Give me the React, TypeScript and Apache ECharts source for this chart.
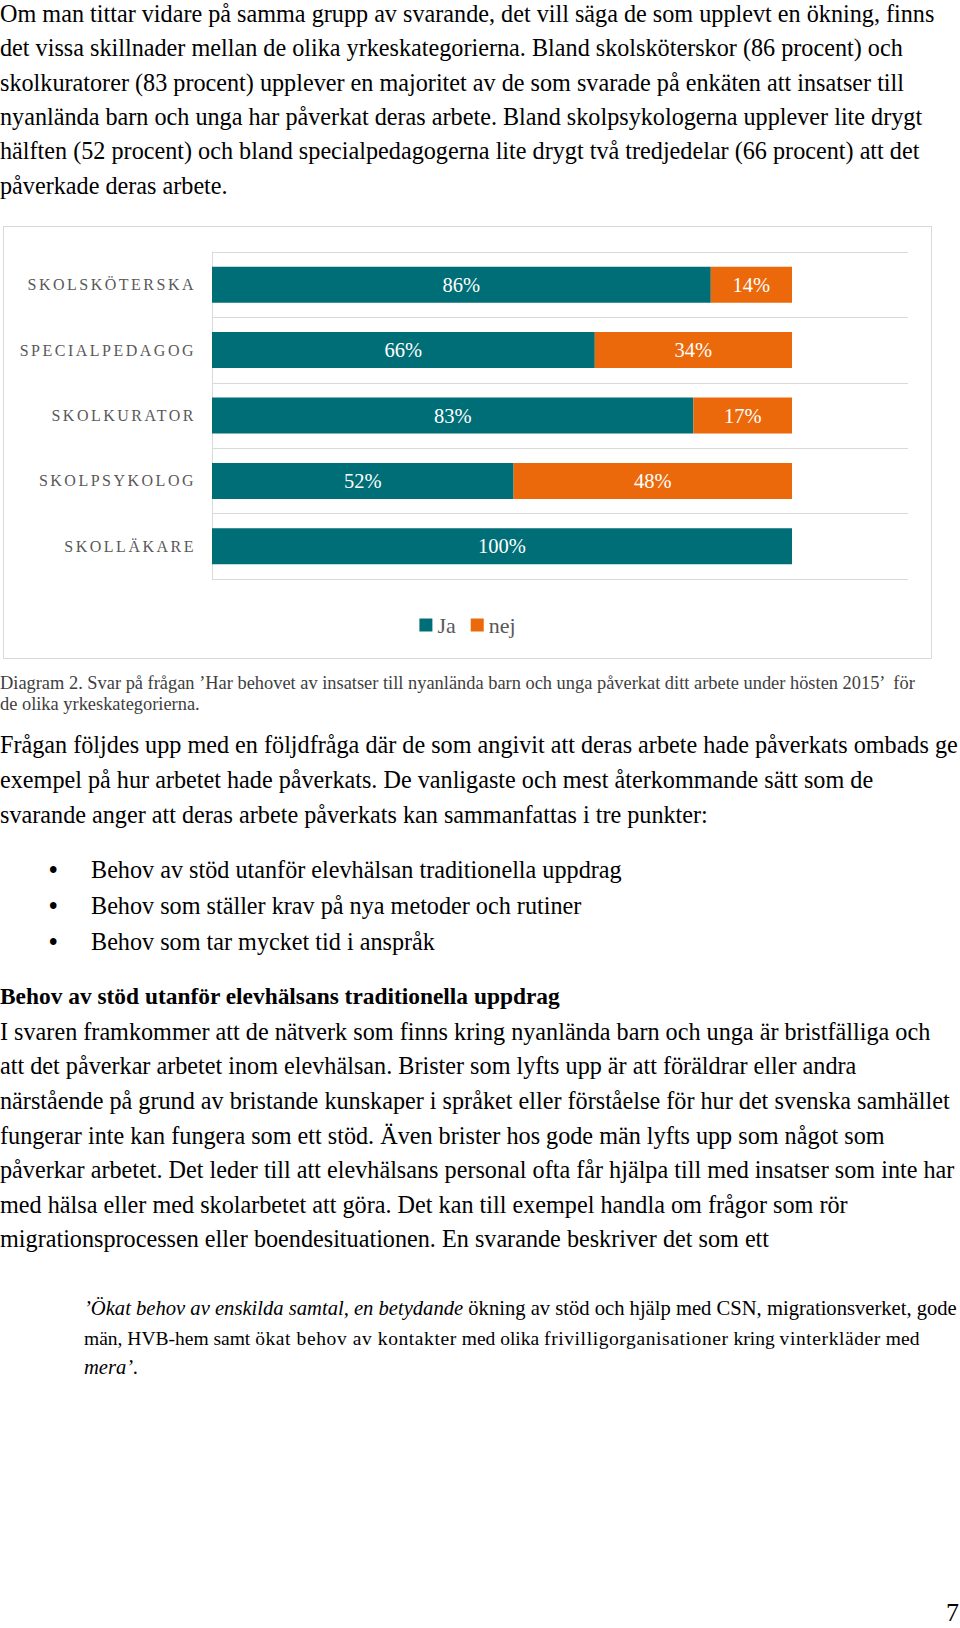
import React, { useEffect, useRef } from "react";
import * as echarts from "echarts";

const categories = ["SKOLSKÖTERSKA", "SPECIALPEDAGOG", "SKOLKURATOR", "SKOLPSYKOLOG", "SKOLLÄKARE"];
const jaValues = [86, 66, 83, 52, 100];
const nejValues = [14, 34, 17, 48, 0];
const seriesNames = ["Ja", "nej"];
const xMax = 120;

const para1 = [
  "Om man tittar vidare på samma grupp av svarande, det vill säga de som upplevt en ökning, finns",
  "det vissa skillnader mellan de olika yrkeskategorierna. Bland skolsköterskor (86 procent) och",
  "skolkuratorer (83 procent) upplever en majoritet av de som svarade på enkäten att insatser till",
  "nyanlända barn och unga har påverkat deras arbete. Bland skolpsykologerna upplever lite drygt",
  "hälften (52 procent) och bland specialpedagogerna lite drygt två tredjedelar (66 procent) att det",
  "påverkade deras arbete.",
];
const caption = [
  "Diagram 2. Svar på frågan ’Har behovet av insatser till nyanlända barn och unga påverkat ditt arbete under hösten 2015’  för",
  "de olika yrkeskategorierna.",
];
const para2 = [
  "Frågan följdes upp med en följdfråga där de som angivit att deras arbete hade påverkats ombads ge",
  "exempel på hur arbetet hade påverkats. De vanligaste och mest återkommande sätt som de",
  "svarande anger att deras arbete påverkats kan sammanfattas i tre punkter:",
];
const bullets = [
  "Behov av stöd utanför elevhälsan traditionella uppdrag",
  "Behov som ställer krav på nya metoder och rutiner",
  "Behov som tar mycket tid i anspråk",
];
const heading = "Behov av stöd utanför elevhälsans traditionella uppdrag";
const para3 = [
  "I svaren framkommer att de nätverk som finns kring nyanlända barn och unga är bristfälliga och",
  "att det påverkar arbetet inom elevhälsan. Brister som lyfts upp är att föräldrar eller andra",
  "närstående på grund av bristande kunskaper i språket eller förståelse för hur det svenska samhället",
  "fungerar inte kan fungera som ett stöd. Även brister hos gode män lyfts upp som något som",
  "påverkar arbetet. Det leder till att elevhälsans personal ofta får hjälpa till med insatser som inte har",
  "med hälsa eller med skolarbetet att göra. Det kan till exempel handla om frågor som rör",
  "migrationsprocessen eller boendesituationen. En svarande beskriver det som ett",
];
const quoteItalic1 = "’Ökat behov av enskilda samtal, en betydande";
const quoteRest1 = " ökning av stöd och hjälp med CSN, migrationsverket, gode";
const quote2a = "män, HVB-hem samt ";
const quote2b = "ökat behov av kontakter";
const quote2c = " med olika ";
const quote2d = "frivilligorganisationer";
const quote2e = " kring ";
const quote2f = "vinterkläder";
const quote2g = " med";
const quoteItalic3 = "mera’.";
const pageNumber = "7";

const SERIF = '"Liberation Serif", "Times New Roman", serif';
const TEAL = "#006E76";
const ORANGE = "#EB690A";

function T(props: { x: number; b: number; size?: number; style?: any; children: any }) {
  const size = props.size ?? 24.2;
  return (
    <div
      style={{
        position: "absolute",
        left: props.x,
        top: props.b - 0.8375 * size,
        fontSize: size,
        lineHeight: `${size}px`,
        whiteSpace: "pre",
        ...(props.style || {}),
      }}
    >
      {props.children}
    </div>
  );
}

function Chart() {
  const ref = useRef<HTMLDivElement>(null);
  useEffect(() => {
    if (!ref.current) return;
    const chart = echarts.init(ref.current, undefined, { renderer: "svg" });
    const labelFmt = (p: any) => (p.value ? `${p.value}%` : "");
    chart.setOption({
      animation: false,
      textStyle: { fontFamily: SERIF },
      grid: { left: 208, top: 25, width: 696, height: 327, containLabel: false },
      xAxis: {
        type: "value",
        min: 0,
        max: xMax,
        interval: 20,
        axisLabel: { show: false },
        axisLine: { show: false },
        axisTick: { show: false },
        splitLine: { show: false },
      },
      yAxis: {
        type: "category",
        data: categories,
        inverse: true,
        axisLine: { show: true, lineStyle: { color: "#d9d9d9", width: 1 } },
        axisTick: { show: false },
        splitLine: { show: true, lineStyle: { color: "#d9d9d9", width: 1 } },
        axisLabel: { color: "#595959", fontSize: 16, margin: 16, fontFamily: SERIF },
      },
      legend: {
        data: seriesNames,
        left: "center",
        top: 382,
        icon: "rect",
        itemWidth: 13,
        itemHeight: 13,
        itemGap: 15,
        textStyle: { fontSize: 22, color: "#595959", fontFamily: SERIF },
      },
      series: [
        {
          name: seriesNames[0],
          type: "bar",
          stack: "t",
          data: jaValues,
          barWidth: 36,
          itemStyle: { color: TEAL },
          label: { show: true, position: "inside", color: "#fff", fontSize: 20.5, fontFamily: SERIF, formatter: labelFmt },
        },
        {
          name: seriesNames[1],
          type: "bar",
          stack: "t",
          data: nejValues,
          barWidth: 36,
          itemStyle: { color: ORANGE },
          label: { show: true, position: "inside", color: "#fff", fontSize: 20.5, fontFamily: SERIF, formatter: labelFmt },
        },
      ],
    });
    const applySpacing = () => {
      ref.current?.querySelectorAll("text").forEach((t) => {
        if (categories.includes((t.textContent || "").trim())) {
          (t as any).style.letterSpacing = "2.5px";
        }
      });
    };
    applySpacing();
    chart.on("finished", applySpacing);
    return () => chart.dispose();
  }, []);
  return <div ref={ref} style={{ width: 927, height: 431 }} />;
}

export default function App() {
  const spaced = { letterSpacing: "0.6px" };
  return (
    <div
      style={{
        position: "absolute",
        left: 0,
        top: 0,
        width: 960,
        height: 1628,
        overflow: "hidden",
        background: "#fff",
        fontFamily: SERIF,
        color: "#000",
      }}
    >
      {para1.map((l, i) => (
        <T key={"p1" + i} x={0} b={22 + i * 34.4}>{l}</T>
      ))}
      <div
        style={{
          position: "absolute",
          left: 3,
          top: 226,
          width: 929,
          height: 433,
          border: "1px solid #d9d9d9",
          boxSizing: "border-box",
        }}
      >
        <Chart />
      </div>
      {caption.map((l, i) => (
        <T key={"c" + i} x={0} b={689 + i * 21} size={18.4} style={{ color: "#404040" }}>{l}</T>
      ))}
      {para2.map((l, i) => (
        <T key={"p2" + i} x={0} b={753 + i * 35}>{l}</T>
      ))}
      {bullets.map((l, i) => (
        <React.Fragment key={"b" + i}>
          <T x={49} b={878 + i * 36} style={{ fontWeight: "bold" }}>{"•"}</T>
          <T x={91} b={878 + i * 36}>{l}</T>
        </React.Fragment>
      ))}
      <T x={0} b={1005} size={23.4} style={{ fontWeight: "bold" }}>{heading}</T>
      {para3.map((l, i) => (
        <T key={"p3" + i} x={0} b={1040 + i * 34.6}>{l}</T>
      ))}
      <T x={84} b={1315} size={20.6}>
        <i>{quoteItalic1}</i>
        {quoteRest1}
      </T>
      <T x={84} b={1345} size={19.5}>
        {quote2a}
        <span style={spaced}>{quote2b}</span>
        {quote2c}
        <span style={spaced}>{quote2d}</span>
        {quote2e}
        <span style={spaced}>{quote2f}</span>
        {quote2g}
      </T>
      <T x={84} b={1374} size={20.6}>
        <i>{quoteItalic3}</i>
      </T>
      <div
        style={{
          position: "absolute",
          right: 1,
          top: 1622 - 0.8375 * 26,
          fontSize: 26,
          lineHeight: "26px",
        }}
      >
        {pageNumber}
      </div>
    </div>
  );
}
